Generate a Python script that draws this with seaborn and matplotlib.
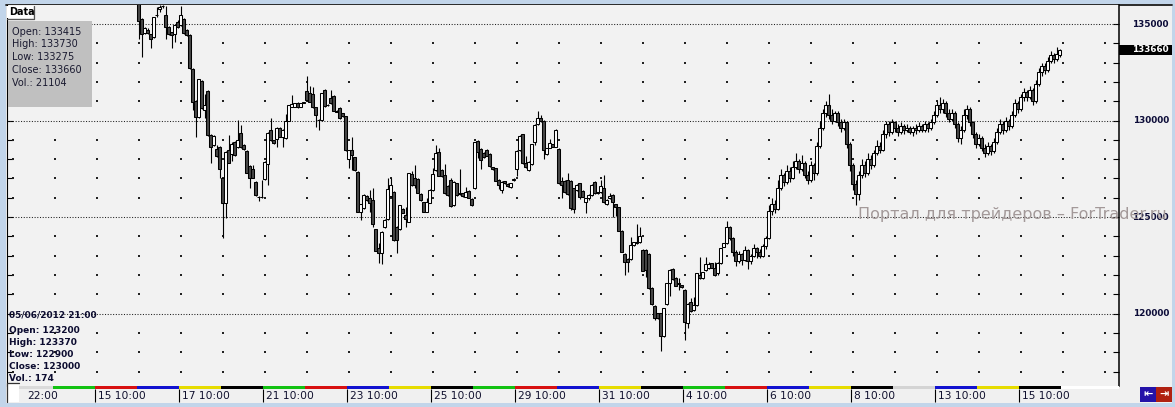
import numpy as np
import pandas as pd
import matplotlib
matplotlib.use("Agg")
import matplotlib.pyplot as plt
from matplotlib.patches import Rectangle
import seaborn as sns

# hourly bars, first visible bar = 16 May 10:00 (bar 14 after 15 May 10:00)
first_bar = 14
opens = [136100, 135240, 134520, 134690, 134460, 134310, 135470, 135760, 135930, 135470,
         134860, 134570, 134460, 135120, 134950, 135240, 134690, 134430, 132650, 131030,
         130200, 132050, 130540, 131550, 129250, 128730, 128510, 128640, 127000, 125710,
         128470, 128260, 128900, 128640, 129370, 128730, 128420, 127640, 127470, 126810,
         126050, 126020, 126950, 127750, 129510, 128990, 129020, 129590, 129160, 129080,
         129990, 130720, 130720, 130920, 130720, 130920, 131530, 131410, 131360, 130680,
         130030, 130030, 131580, 130800, 131150, 131270, 130510, 130630, 130370, 130230,
         127990, 128470, 128090, 127350, 125280, 125450, 126090, 125970, 125880, 124360,
         123380, 123120, 124470, 124880, 126090, 126300, 124500, 124360, 125420, 125110,
         124760, 127210, 127000, 126990, 126190, 125760, 125280, 125740, 126400, 127440,
         128350, 127440, 127160, 126610, 126920, 125620, 126750, 126260, 126230, 126060,
         126370, 125930, 126490, 128940, 128520, 128330, 128470, 128270, 127570, 127520,
         126920, 126400, 126850, 126710, 126540, 126920, 127470, 128470, 129280, 127820,
         127440, 127730, 128870, 129800, 130110, 129980, 128250, 128590, 128770, 128650,
         128520, 126870, 126870, 126920, 126870, 126490, 126400, 126750, 126350, 125800,
         125970, 126140, 126800, 126280, 126280, 126490, 125660, 125970, 126140, 125680,
         125500, 124280, 123080, 122830, 122830, 123550, 123640, 123690, 123290, 123290,
         123080, 121340, 120390, 120010, 120010, 118840, 120480, 121570, 122310, 121860,
         121570, 121480, 121220, 119490, 120580, 120180, 120440, 122000, 121820, 122260,
         122340, 122600, 122340, 122080, 122600, 123470, 123640,
         124500, 123900, 123200, 122700, 123100, 122800, 123300, 122700, 123000, 123400,
         123200, 123000, 123500, 123900, 125300, 125700, 125400, 126500, 127200, 126800,
         127400, 127000, 127600, 127900, 127500, 127800, 127200, 126900, 127700, 127300,
         128700, 129600, 130400, 130800, 130300, 130000, 130400, 129900, 129600, 129900,
         128800, 127700, 126700, 126200, 127200, 127700, 127300, 128000, 127700, 128300,
         128700, 128500, 129300, 129800, 129400, 129900, 129600, 129400, 129700, 129500,
         129600, 129400, 129600, 129500, 129700, 129500, 129800, 129600, 129900, 130300,
         130800, 130600, 130900, 130400, 130100, 130400, 129800, 129100, 129500, 130300,
         130600, 129900, 129300, 128800, 129100, 128600, 128300, 128700, 128400, 128900,
         129400, 129800, 129500, 130000, 129700, 130300, 130900, 130600, 131200, 131500,
         131200, 131600, 131000, 131900, 132500, 132800, 132600, 133100, 133400, 133200,
         133415]
highs = [136300, 135290, 134860, 134780, 134500, 135380, 135900, 135990, 136000, 135930,
         134900, 134600, 134980, 135200, 135930, 135300, 134720, 134460, 132700, 131060,
         132160, 132080, 131360, 131600, 129300, 129230, 128730, 128680, 127040, 128420,
         129250, 128900, 128950, 130030, 129770, 128800, 128460, 127680, 127700, 126850,
         126110, 126920, 127900, 129400, 130110, 129000, 129660, 129680, 129540, 130340,
         130820, 131320, 130920, 130960, 130920, 130960, 132300, 131790, 131750, 130700,
         130080, 131440, 131620, 130850, 131580, 131300, 130560, 130700, 130400, 130260,
         128500, 129160, 128130, 127400, 125700, 126170, 126120, 126400, 126490, 124400,
         123670, 124270, 124880, 127000, 127040, 126330, 124530, 125650, 125450, 125540,
         127300, 127400, 127700, 127020, 126230, 125800, 125970, 126430, 127560, 128730,
         128560, 127470, 127750, 126640, 127040, 126850, 126780, 127470, 126260, 126540,
         126400, 125970, 128900, 128980, 128560, 128370, 128510, 128300, 127610, 127560,
         126950, 126870, 126880, 126740, 126780, 127020, 128450, 129230, 129320, 128160,
         127900, 128800, 129800, 130490, 130290, 130010, 128590, 129040, 128800, 129540,
         128560, 127090, 126900, 127260, 126900, 126520, 126700, 126780, 126380, 126000,
         126170, 126700, 126870, 126300, 126930, 127180, 125920, 126230, 126180, 125700,
         125540, 124310, 123120, 122860, 123980, 123720, 124620, 124470, 123330, 123330,
         123120, 121380, 120420, 120040, 120050, 120300, 121600, 122290, 122380, 121900,
         121820, 121500, 121250, 120530, 120820, 120870, 122120, 122950, 122170, 122950,
         122690, 122630, 122690, 122670, 123410, 123670, 124800,
         124550, 123950, 123300, 123250, 123150, 123500, 123350, 123100, 123600, 123450,
         123370, 123600, 124000, 125600, 126000, 125900, 126900, 127500, 127300, 127700,
         127600, 127900, 128300, 128000, 128200, 127900, 127400, 127900, 127800, 128900,
         130000, 130600, 131000, 131400, 130600, 130500, 130500, 130100, 130100, 130000,
         128900, 127800, 126900, 127400, 128000, 127900, 128300, 128200, 128500, 129000,
         128900, 129500, 130000, 130000, 130100, 130000, 129800, 129900, 129800, 129800,
         129700, 129700, 129800, 129900, 129800, 130000, 129900, 130100, 130500, 131000,
         131200, 131100, 131000, 130600, 130600, 130500, 129900, 129700, 130600, 130800,
         130700, 130000, 129400, 129300, 129200, 128800, 128900, 128800, 129100, 129600,
         130100, 130000, 130200, 130100, 130500, 131100, 131000, 131400, 131700, 131600,
         131800, 131700, 132100, 132700, 133000, 133000, 133300, 133600, 133500, 133800,
         133730]
lows = [134200, 133310, 134460, 134480, 133740, 134280, 135380, 135640, 135830, 134200,
        134450, 133740, 134080, 134800, 134900, 134480, 134400, 132680, 130540, 129130,
        130150, 130600, 130110, 129200, 127820, 128700, 128130, 127040, 123930, 124930,
        127780, 127920, 128180, 128600, 128600, 128480, 127260, 126490, 127000, 126100,
        125850, 125990, 126920, 126660, 128950, 128800, 128640, 129130, 128640, 129040,
        129960, 130690, 130690, 130650, 130690, 130900, 131030, 130950, 130650, 129680,
        129510, 129990, 130720, 130760, 130860, 130480, 130420, 130080, 130200, 128440,
        127520, 127440, 127400, 125250, 124850, 125420, 125850, 125280, 124500, 123220,
        122600, 122550, 124430, 124850, 126050, 123780, 123150, 124330, 125190, 124500,
        124730, 126630, 126490, 126230, 125850, 125250, 125250, 125710, 126370, 127400,
        127110, 127090, 126190, 126110, 125540, 125590, 126110, 126160, 126060, 126020,
        125970, 125570, 126450, 128080, 127470, 128060, 128150, 127610, 127450, 126850,
        126450, 126230, 126710, 126570, 126500, 126880, 127130, 128440, 127750, 127540,
        127400, 127700, 128730, 129750, 129940, 127990, 128210, 128560, 128610, 128610,
        126710, 125970, 126250, 126140, 125360, 125190, 126370, 125930, 126020, 125190,
        125900, 126110, 126190, 126190, 126250, 125730, 125620, 125930, 124980, 125070,
        124260, 123170, 122000, 122170, 122790, 123520, 123600, 123650, 122190, 121910,
        121270, 120440, 119670, 119700, 118060, 118800, 120440, 120930, 121750, 121410,
        121220, 121340, 118630, 119230, 120100, 120150, 120410, 121790, 121790, 122220,
        122310, 122340, 121960, 122000, 122570, 123430, 123600,
        123800, 123000, 122450, 122600, 122500, 122750, 122300, 122550, 122950, 122900,
        122900, 122950, 123350, 123850, 125100, 125200, 125350, 126400, 126600, 126700,
        126800, 126950, 127500, 127300, 127400, 127000, 126700, 126800, 126900, 127200,
        128600, 129500, 130200, 130100, 129800, 129900, 129700, 129400, 129500, 128600,
        127400, 126400, 125600, 125900, 127000, 127100, 127200, 127500, 127600, 128200,
        128300, 128400, 129100, 129200, 129300, 129400, 129200, 129300, 129300, 129400,
        129300, 129200, 129300, 129400, 129400, 129400, 129400, 129500, 129800, 130200,
        130400, 130400, 130200, 129900, 130000, 129600, 128900, 128800, 129400, 130100,
        129700, 129100, 128600, 128700, 128400, 128100, 128200, 128200, 128300, 128800,
        129300, 129300, 129400, 129500, 129600, 130200, 130400, 130500, 131000, 131000,
        131100, 130800, 130900, 131800, 132300, 132400, 132500, 133000, 133000, 133100,
        133275]
closes = [135150, 134460, 134780, 134520, 134200, 135350, 135470, 135900, 135930, 134860,
          134480, 134430, 134950, 134860, 135470, 134520, 134430, 132700, 130980, 130200,
          132130, 130630, 130800, 129250, 128640, 129200, 128160, 127470, 125710, 128390,
          127820, 128780, 128210, 128990, 128640, 128510, 127300, 127040, 127040, 126140,
          126050, 126020, 127870, 129370, 128990, 128850, 129630, 129160, 129510, 129990,
          130790, 130860, 130890, 130680, 130890, 130940, 131060, 130980, 130680, 130290,
          130030, 131410, 130750, 130800, 130890, 130510, 130460, 130110, 130230, 128470,
          128470, 128210, 127440, 125280, 125670, 126140, 125880, 125740, 124620, 123260,
          123120, 124240, 124850, 126450, 126660, 123810, 123810, 125620, 125230, 124880,
          127260, 126660, 126660, 126260, 125880, 125280, 125800, 126400, 127230, 128300,
          127140, 127130, 126230, 126140, 125570, 126810, 126140, 126190, 126090, 126310,
          126000, 125610, 128870, 128390, 127950, 128090, 128180, 127640, 127490, 126880,
          126660, 126830, 126750, 126610, 126750, 126990, 128420, 129200, 127780, 127570,
          127870, 128770, 129770, 130110, 129980, 128470, 128560, 128820, 128650, 129510,
          126750, 126660, 126280, 126180, 125450, 125420, 126660, 126060, 126060, 125970,
          126140, 126660, 126230, 126230, 126590, 125760, 125880, 126110, 125760, 125540,
          124300, 123210, 122650, 122650, 123550, 123690, 123720, 124020, 122220, 122260,
          121310, 120480, 119750, 119750, 118840, 120270, 121570, 122260, 121790, 121440,
          121510, 121380, 119580, 120490, 120130, 120440, 122080, 121820, 122140, 122550,
          122570, 122380, 122000, 122640, 123380, 123640, 124500,
          123900, 123200, 122700, 123100, 122800, 123300, 122700, 123000, 123400, 123200,
          123000, 123500, 123900, 125300, 125700, 125400, 126500, 127200, 126800, 127400,
          127000, 127600, 127900, 127500, 127800, 127200, 126900, 127700, 127300, 128700,
          129600, 130400, 130800, 130300, 130000, 130400, 129900, 129600, 129900, 128800,
          127700, 126700, 126200, 127200, 127700, 127300, 128000, 127700, 128300, 128700,
          128500, 129300, 129800, 129400, 129900, 129600, 129400, 129700, 129500, 129600,
          129400, 129600, 129500, 129700, 129500, 129800, 129600, 129900, 130300, 130800,
          130600, 130900, 130400, 130100, 130400, 129800, 129100, 129500, 130300, 130600,
          129900, 129300, 128800, 129100, 128600, 128300, 128700, 128400, 128900, 129400,
          129800, 129500, 130000, 129700, 130300, 130900, 130600, 131200, 131500, 131200,
          131600, 131000, 131900, 132500, 132800, 132600, 133100, 133400, 133200, 133450,
          133660]

grid_levels = [120000, 125000, 130000, 135000]
tick_labels = ["22:00", "15 10:00", "17 10:00", "21 10:00", "23 10:00", "25 10:00",
               "29 10:00", "31 10:00", "4 10:00", "6 10:00", "8 10:00", "13 10:00", "15 10:00"]
# one strip segment per trading day, starting 11 May
day_colors = ["#dadada", "#12c212", "#d81010", "#1212d0", "#e6dc00", "#000000",
              "#12c212", "#d81010", "#1212d0", "#e6dc00", "#000000",
              "#12c212", "#d81010", "#1212d0", "#e6dc00", "#000000",
              "#12c212", "#d81010", "#1212d0", "#e6dc00", "#000000",
              "#d4d4d4", "#1212d0", "#e6dc00", "#000000"]
info_top = ["Open: 133415", "High: 133730", "Low: 133275", "Close: 133660", "Vol.: 21104"]
info_bottom = ["05/06/2012 21:00", "Open: 123200", "High: 123370", "Low: 122900",
               "Close: 123000", "Vol.: 174"]
last_price = 133660
watermark = "Портал для трейдеров – ForTrader.ru"

W, H = 1175, 407
sns.set_theme(style="white")
plt.rcParams["font.family"] = ["DejaVu Sans"]


def px_box(x0, y0, x1, y1):
    return [x0 / W, 1 - y1 / H, (x1 - x0) / W, (y1 - y0) / H]


fig = plt.figure(figsize=(W / 100, H / 100), dpi=100, facecolor="#c2d5ea")

# window chrome, drawn in pixel coordinates
bg = fig.add_axes([0, 0, 1, 1], zorder=0)
bg.set_xlim(0, W)
bg.set_ylim(H, 0)
bg.axis("off")
bg.add_patch(Rectangle((6, 4), 1166, 399, facecolor="#f0f0f0", edgecolor="none"))
bg.plot([6, 1172], [4.5, 4.5], color="#1a1a1a", lw=1.3)

# main price pane
ax = fig.add_axes(px_box(7, 5, 1119, 386), zorder=2)
ax.set_facecolor("#f2f2f2")
xmin, xmax = (7 - 96.5) / 3, (1119 - 96.5) / 3
ax.set_xlim(xmin, xmax)
ax.set_ylim(116250, 135985)

df = pd.DataFrame({"open": opens, "high": highs, "low": lows, "close": closes})
df["bar"] = np.arange(len(df)) + first_bar
up = df["close"] >= df["open"]

ax.vlines(df["bar"], df["low"], df["high"], color="black", lw=0.8, zorder=3)
ax.bar(df["bar"], df["close"] - df["open"], bottom=df["open"], width=0.72,
       color=np.where(up, "white", "#474747"), edgecolor="black", linewidth=0.75, zorder=4)

for p in grid_levels:
    ax.axhline(p, color="#202020", lw=0.75, ls=(0, (1, 1.6)), zorder=1)

dot_x = np.arange(-28, 340, 14)
dot_y = [p for p in range(117000, 136000, 1000) if p % 5000]
gx, gy = np.meshgrid(dot_x, dot_y)
ax.scatter(gx.ravel(), gy.ravel(), marker="s", s=0.55, color="#222222", linewidths=0, zorder=1)

ax.set_xticks([])
ax.set_yticks(np.arange(117000, 136000, 1000))
ax.tick_params(axis="y", direction="in", length=4, width=0.8, color="black",
               left=True, right=True, labelleft=False, labelright=False)
for side in ["top", "bottom"]:
    ax.spines[side].set_visible(False)
ax.spines["left"].set_color("black")
ax.spines["left"].set_linewidth(0.8)
ax.spines["right"].set_color("black")
ax.spines["right"].set_linewidth(1.1)

ytr = ax.get_yaxis_transform()
lab_x = 1 + (1169 - 1119) / 1112
for p in grid_levels:
    ax.text(lab_x, p, f"{p}", transform=ytr, ha="right", va="center", fontsize=6.4,
            fontweight="bold", color="#0c0c38", clip_on=False)
ax.add_patch(Rectangle((1.0, last_price - 275), 53 / 1112, 550, transform=ytr,
                       facecolor="black", edgecolor="none", clip_on=False, zorder=5))
ax.text(lab_x, last_price, f"{last_price}", transform=ytr, ha="right", va="center",
        fontsize=6.4, fontweight="bold", color="white", clip_on=False, zorder=6)

# time axis with day colour strip
ax_t = fig.add_axes(px_box(7, 386, 1119, 403), zorder=2)
ax_t.set_xlim(xmin, xmax)
ax_t.set_ylim(403, 386)
ax_t.axis("off")
for k, c in enumerate(day_colors):
    start = (k - 2) * 14 - 0.5
    ax_t.add_patch(Rectangle((start, 386), 14, 3, facecolor=c, edgecolor="none"))
end_day = (len(day_colors) - 2) * 14 - 0.5
ax_t.add_patch(Rectangle((end_day, 386), xmax - end_day, 3, facecolor="white", edgecolor="none"))
for n, lab in enumerate(tick_labels):
    if n == 0:
        pos = -23.5
    else:
        pos = 28 * (n - 1)
        ax_t.vlines(pos - 0.4, 389, 402, color="black", lw=0.8)
    ax_t.text(pos + 0.5, 396, lab, ha="left", va="center", fontsize=7.7, color="#10102e")

# overlays: data window, info boxes, buttons, watermark
fg = fig.add_axes([0, 0, 1, 1], zorder=10)
fg.set_xlim(0, W)
fg.set_ylim(H, 0)
fg.axis("off")
fg.patch.set_alpha(0)

fg.add_patch(Rectangle((7, 5.5), 26, 12.5, facecolor="white", edgecolor="none"))
fg.plot([33.5, 33.5, 7], [5.5, 18.5, 18.5], color="#555555", lw=0.9)
fg.text(9, 12, "Data", ha="left", va="center", fontsize=7, fontweight="bold", color="black")

fg.add_patch(Rectangle((8, 21), 84, 86, facecolor="#c0c0c0", edgecolor="none"))
for n, line in enumerate(info_top):
    fg.text(12, 31.7 + 12.75 * n, line, ha="left", va="center", fontsize=7, color="#1a1a30")

fg.text(9, 314.7, info_bottom[0], ha="left", va="center", fontsize=6.5,
        fontweight="bold", color="#0c0c30")
for n, line in enumerate(info_bottom[1:]):
    fg.text(9, 330.7 + 12 * n, line, ha="left", va="center", fontsize=6.5,
            fontweight="bold", color="#0c0c30")

fg.add_patch(Rectangle((7, 383), 12, 19, facecolor="white", edgecolor="none"))
fg.plot([7, 7, 19], [402, 383, 383], color="#333333", lw=0.9)

fg.add_patch(Rectangle((1140, 387), 16, 15, facecolor="#2412a8", edgecolor="none"))
fg.add_patch(Rectangle((1156, 387), 16, 15, facecolor="#b02010", edgecolor="none"))
fg.text(1148, 394.5, "⇤", ha="center", va="center", fontsize=8, color="white", fontweight="bold")
fg.text(1164, 394.5, "⇥", ha="center", va="center", fontsize=8, color="white", fontweight="bold")

fg.text(858, 215, watermark, ha="left", va="center", fontsize=11.5, color="#a39999")

fig.savefig("out.png", dpi=100, facecolor=fig.get_facecolor())
